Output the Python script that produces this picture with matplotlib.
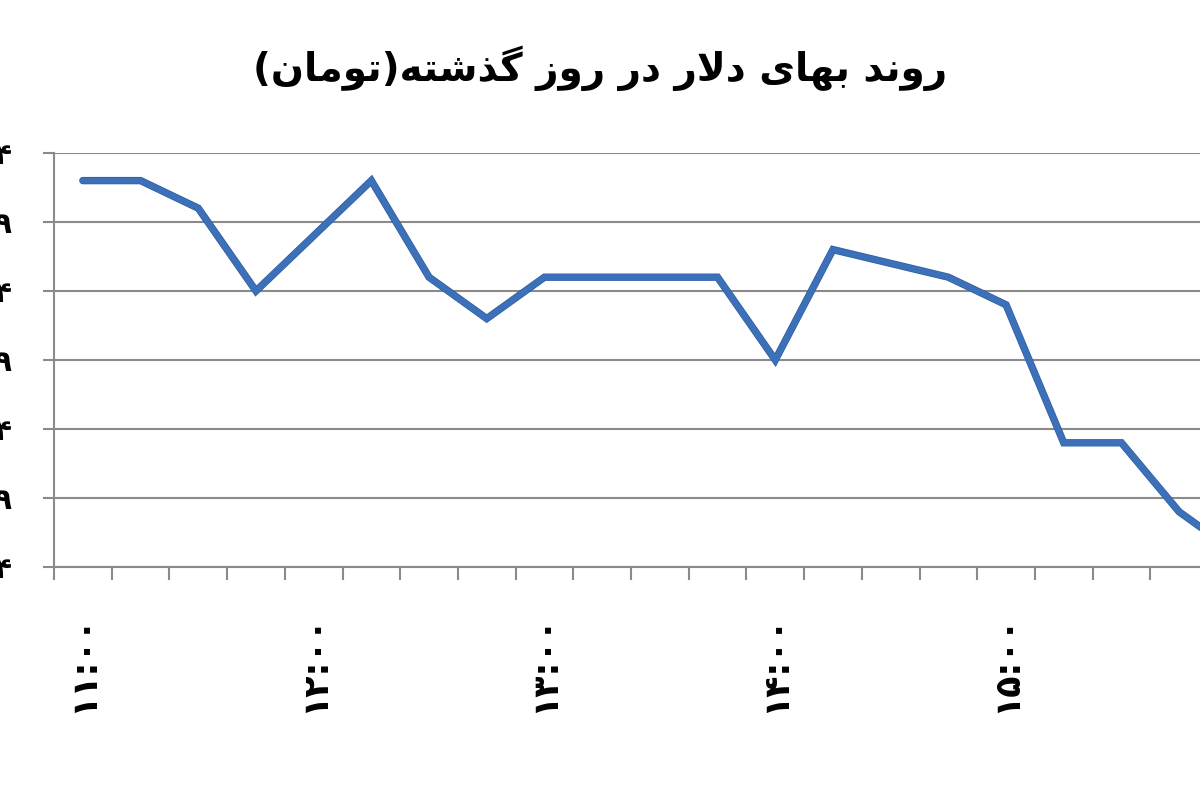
import matplotlib
matplotlib.use("Agg")
import matplotlib.pyplot as plt
import matplotlib.patheffects as pe
import numpy as np

# ---------------- data ----------------
times = ["۱۱:۰۰", "۱۱:۱۵", "۱۱:۳۰", "۱۱:۴۵", "۱۲:۰۰", "۱۲:۱۵", "۱۲:۳۰", "۱۲:۴۵",
         "۱۳:۰۰", "۱۳:۱۵", "۱۳:۳۰", "۱۳:۴۵", "۱۴:۰۰", "۱۴:۱۵", "۱۴:۳۰", "۱۴:۴۵",
         "۱۵:۰۰", "۱۵:۱۵", "۱۵:۳۰", "۱۵:۴۵", "۱۶:۰۰"]
prices = [3872, 3872, 3870, 3864, 3868, 3872, 3865, 3862, 3865, 3865, 3865,
          3865, 3859, 3867, 3866, 3865, 3863, 3853, 3853, 3848, 3845]
y_ticks = [3844, 3849, 3854, 3859, 3864, 3869, 3874]
title_text = "روند بهای دلار در روز گذشته(تومان)"

# ---------------- minimal Arabic/Persian shaping ----------------
FORMS = {
    'ا': ('\uFE8D', '\uFE8E', None, None),
    'ب': ('\uFE8F', '\uFE90', '\uFE91', '\uFE92'),
    'ت': ('\uFE95', '\uFE96', '\uFE97', '\uFE98'),
    'د': ('\uFEA9', '\uFEAA', None, None),
    'ذ': ('\uFEAB', '\uFEAC', None, None),
    'ر': ('\uFEAD', '\uFEAE', None, None),
    'ز': ('\uFEAF', '\uFEB0', None, None),
    'ش': ('\uFEB5', '\uFEB6', '\uFEB7', '\uFEB8'),
    'ل': ('\uFEDD', '\uFEDE', '\uFEDF', '\uFEE0'),
    'م': ('\uFEE1', '\uFEE2', '\uFEE3', '\uFEE4'),
    'ن': ('\uFEE5', '\uFEE6', '\uFEE7', '\uFEE8'),
    'ه': ('\uFEE9', '\uFEEA', '\uFEEB', '\uFEEC'),
    'و': ('\uFEED', '\uFEEE', None, None),
    'ی': ('\uFBFC', '\uFBFD', '\uFBFE', '\uFBFF'),
    'گ': ('\uFB92', '\uFB93', '\uFB94', '\uFB95'),
}


def joins_left(c):
    return c in FORMS and FORMS[c][2] is not None


def shape(text):
    chars = list(text)
    n = len(chars)
    out = []
    i = 0
    while i < n:
        c = chars[i]
        prev = chars[i - 1] if i > 0 else None
        cp = prev is not None and joins_left(prev)
        if c == 'ل' and i + 1 < n and chars[i + 1] == 'ا':
            out.append('\uFEFC' if cp else '\uFEFB')
            i += 2
            continue
        if c not in FORMS:
            out.append(c)
            i += 1
            continue
        nxt = chars[i + 1] if i + 1 < n else None
        cn = nxt is not None and joins_left(c) and nxt in FORMS
        iso, fin, ini, med = FORMS[c]
        if cp and cn:
            out.append(med)
        elif cp:
            out.append(fin)
        elif cn:
            out.append(ini)
        else:
            out.append(iso)
        i += 1
    vis = ''.join(reversed(out))
    return vis.translate(str.maketrans('()', ')('))


def fa_digits(v):
    return str(v).translate(str.maketrans('0123456789', '۰۱۲۳۴۵۶۷۸۹'))


plt.rcParams['font.family'] = ['DejaVu Sans']

fig = plt.figure(figsize=(12, 8), dpi=100)
fig.patch.set_facecolor('white')
n = len(prices)
ax = fig.add_axes([0.045, 0.29125, n * 57.7 / 1200, 0.5175])

x = np.arange(n)
ax.plot(x, prices, color='#3C71BA', lw=4.3, solid_capstyle='round',
        solid_joinstyle='miter', zorder=3,
        path_effects=[pe.Stroke(linewidth=5.3, foreground='#2D5E9E'), pe.Normal()])

ax.set_xlim(-0.5, n - 0.5)
ax.set_ylim(y_ticks[0], y_ticks[-1])

grey = '#8a8a8a'
ax.set_yticks(y_ticks)
ax.set_yticklabels([fa_digits(v) for v in y_ticks], fontsize=21, fontweight='bold')
ax.yaxis.grid(True, color=grey, lw=1.5)
ax.tick_params(axis='y', length=8, width=1.5, color=grey, pad=22, direction='out')

ax.set_xticks(np.arange(n + 1) - 0.5)
ax.set_xticklabels([])
ax.tick_params(axis='x', which='major', length=9, width=1.5, color=grey, direction='out')
lab_pos = list(range(0, n, 4))
ax.set_xticks(lab_pos, minor=True)
ax.set_xticklabels([times[i] for i in lab_pos], minor=True, rotation=90,
                   fontsize=25, fontweight='bold')
ax.tick_params(axis='x', which='minor', length=0, pad=34)

for s in ['top', 'right']:
    ax.spines[s].set_visible(False)
for s in ['left', 'bottom']:
    ax.spines[s].set_color(grey)
    ax.spines[s].set_linewidth(1.5)
ax.set_axisbelow(True)

fig.text(0.5, 0.915, shape(title_text), ha='center', va='center',
         fontsize=28, fontweight='bold', color='black')

fig.savefig('out.png', dpi=100, facecolor='white')
